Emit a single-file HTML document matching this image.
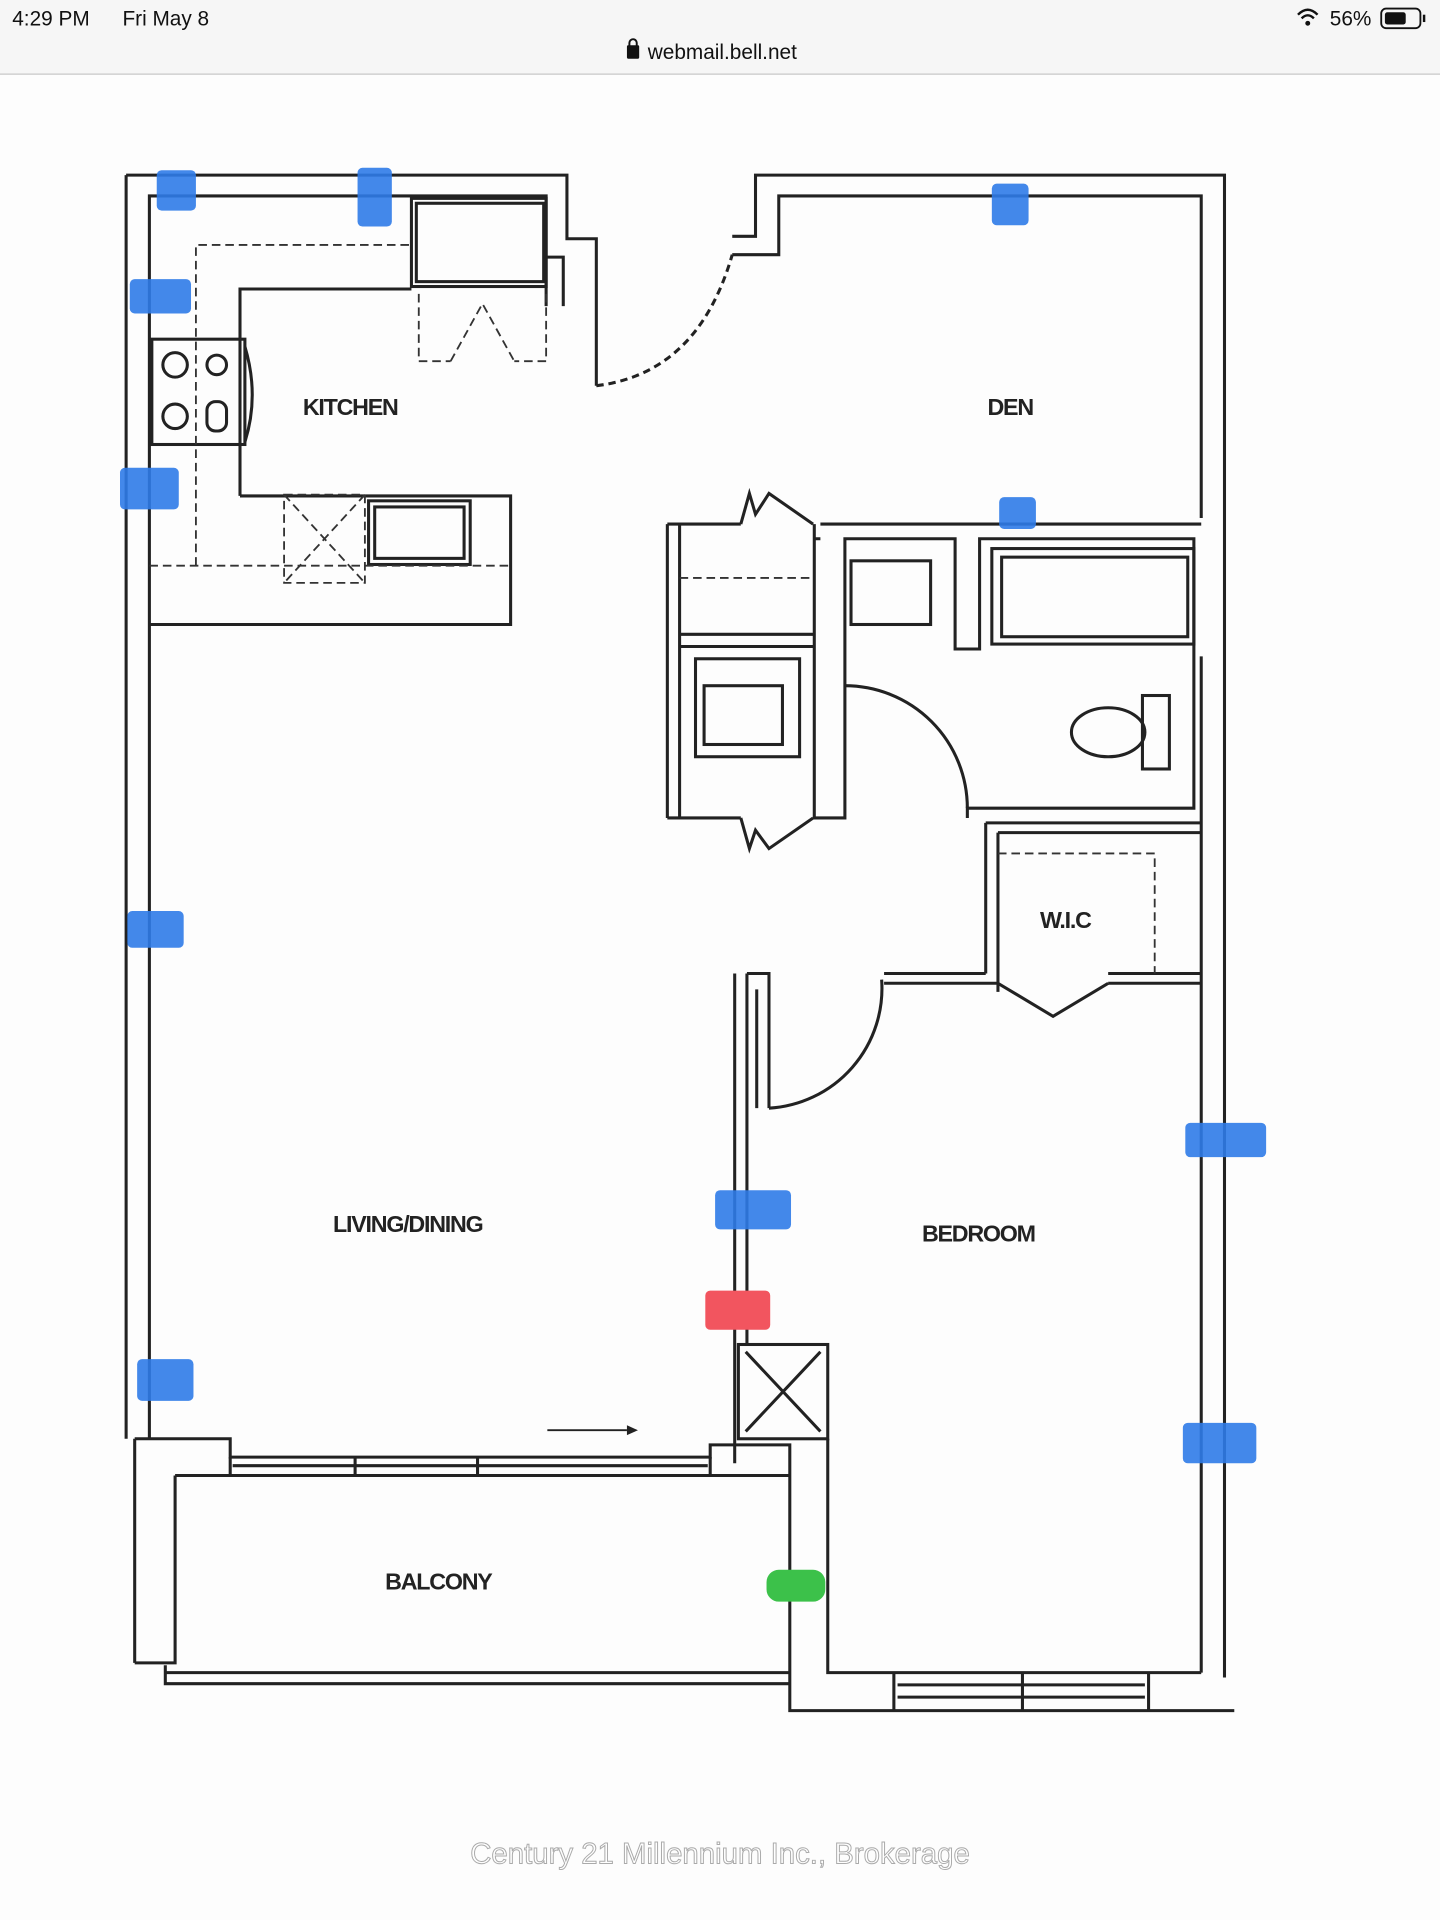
<!DOCTYPE html>
<html><head><meta charset="utf-8"><style>
html,body{margin:0;padding:0;background:#fff;}
svg{display:block;}
</style></head><body>
<svg width="1440" height="1920" viewBox="0 0 1176 1568" xmlns="http://www.w3.org/2000/svg">
<rect x="0" y="0" width="1176" height="1568" fill="#fdfdfd"/>
<rect x="0" y="0" width="1176" height="60" fill="#f6f6f6"/>
<line x1="0" y1="60.5" x2="1176" y2="60.5" stroke="#c8c8c8" stroke-width="1"/>
<text x="10" y="21" font-family="Liberation Sans, sans-serif" font-size="17" fill="#111">4:29 PM</text>
<text x="100" y="21" font-family="Liberation Sans, sans-serif" font-size="17" fill="#111">Fri May 8</text>
<rect x="512" y="37" width="10" height="11" rx="1" fill="#111"/>
<path d="M514 38 v-3 a3 3 0 0 1 6 0 v3" fill="none" stroke="#111" stroke-width="1.6"/>
<text x="529" y="48" font-family="Liberation Sans, sans-serif" font-size="17" fill="#111">webmail.bell.net</text>
<text x="1086" y="21" font-family="Liberation Sans, sans-serif" font-size="17" fill="#111">56%</text>
<path d="M1060 12 q8 -8 16 0 M1063 15 q5 -5 10 0" fill="none" stroke="#111" stroke-width="2"/>
<circle cx="1068" cy="19" r="2" fill="#111"/>
<rect x="1128" y="7" width="32" height="16" rx="4" fill="none" stroke="#111" stroke-width="1.5"/>
<rect x="1131" y="10" width="17" height="10" rx="2" fill="#111"/>
<rect x="1162" y="12" width="2" height="6" fill="#111"/>

<g fill="none" stroke="#222" stroke-width="2.5">
<path d="M103 143 H463 V195 H487 V315"/>
<path d="M122 1175 V160 H446 V250"/>
<path d="M103 143 V1175"/>
<path d="M446 210 H460 V250"/>
<path d="M598 193 H617 V143 H1000 V1370"/>
<path d="M598 208 H636 V160 H981 V423"/>
<path d="M981 536 V1366"/>
<rect x="336" y="162" width="110" height="72"/>
<rect x="340" y="166" width="104" height="64"/>
<path d="M196 405 V236 H336"/>
<path d="M196 405 H417 V510 H122"/>
<rect x="124" y="277" width="76" height="86"/>
<circle cx="143" cy="298" r="10"/><circle cx="177" cy="298" r="8"/>
<circle cx="143" cy="340" r="10"/><rect x="169" y="328" width="16" height="24" rx="7"/>
<path d="M200 283 q12 40 0 78"/>
<rect x="301" y="409" width="83" height="52"/>
<rect x="306" y="414" width="73" height="42"/>
<path d="M545 428 V668 M555 428 V668 M545 428 H605 M545 668 H605"/>
<path d="M605 428 L612 403 L617 420 L628 403 L664 428 M605 668 L612 693 L617 678 L628 693 L664 668"/>
<path d="M555 518 H665 M555 528 H665"/>
<rect x="568" y="538" width="85" height="80"/>
<rect x="575" y="560" width="64" height="48"/>
<path d="M665 428 V668 H690 V440 H780 V530 H800 V440 H975 V660 H790 V668"/>
<path d="M670 428 H981 M665 440 H670"/>
<rect x="695" y="458" width="65" height="52"/>
<rect x="810" y="448" width="165" height="78"/>
<rect x="818" y="455" width="152" height="65"/>
<ellipse cx="905" cy="598" rx="30" ry="20"/>
<rect x="933" y="568" width="22" height="60"/>
<path d="M690 560 A100 100 0 0 1 790 660"/>
<path d="M805 672 H981 M815 680 H981 M805 672 V795 M815 680 V810"/>
<path d="M722 795 H805 M722 803 H815 M905 795 H981 M905 803 H981"/>
<path d="M815 803 L860 830 L905 803"/>
<path d="M720 800 A98 98 0 0 1 628 905"/>
<path d="M600 795 V1195 M610 795 V1098 M610 795 H628 V905"/>
<path d="M618 808 V905"/>
<rect x="603" y="1098" width="73" height="77"/>
<path d="M609 1104 L670 1169 M670 1104 L609 1169"/>
<path d="M110 1175 H188 V1190 H580 V1180 H645 V1397 H1008"/>
<path d="M110 1175 V1358 M143 1205 H645"/>
<path d="M143 1205 V1358 H110 M135 1360 V1375 H645 M135 1366 H645"/>
<path d="M188 1190 V1205 M580 1190 V1205"/>
<path d="M190 1197 H578 M290 1190 V1205 M390 1190 V1205"/>
<path d="M676 1175 V1366 H981"/>
<path d="M730 1366 V1397 M938 1366 V1397 M733 1376 H935 M733 1386 H935 M835 1366 V1397"/>
<path d="M487 315 Q570 305 598 208" stroke-dasharray="6 4"/>
<path d="M447 1168 H512" stroke-width="1.5"/>
</g>
<path d="M512 1164 L521 1168 L512 1172 Z" fill="#222"/>
<g fill="none" stroke="#333" stroke-width="1.5" stroke-dasharray="7 4">
<path d="M160 462 V200 H336"/>
<path d="M122 462 H417"/>
<rect x="232" y="404" width="66" height="72"/>
<path d="M232 404 L298 476 M298 404 L232 476"/>
<path d="M342 240 V295 H368 M446 240 V295 H420 M368 295 L394 248 L420 295"/>
<path d="M555 472 H665"/>
<path d="M815 697 H943 V795"/>
</g>
<g font-family="Liberation Sans, sans-serif" font-size="19" font-weight="bold" fill="#222" text-anchor="middle" letter-spacing="-1">
<text x="286" y="339">KITCHEN</text>
<text x="825" y="339">DEN</text>
<text x="870" y="758">W.I.C</text>
<text x="333" y="1006">LIVING/DINING</text>
<text x="799" y="1014">BEDROOM</text>
<text x="358" y="1298">BALCONY</text>
</g>
<g fill="#2f7be8" opacity="0.9">
<rect x="128" y="139" width="32" height="33" rx="4"/>
<rect x="292" y="137" width="28" height="48" rx="4"/>
<rect x="810" y="150" width="30" height="34" rx="4"/>
<rect x="106" y="228" width="50" height="28" rx="4"/>
<rect x="98" y="382" width="48" height="34" rx="4"/>
<rect x="816" y="406" width="30" height="26" rx="4"/>
<rect x="104" y="744" width="46" height="30" rx="4"/>
<rect x="968" y="917" width="66" height="28" rx="4"/>
<rect x="584" y="972" width="62" height="32" rx="4"/>
<rect x="112" y="1110" width="46" height="34" rx="4"/>
<rect x="966" y="1162" width="60" height="33" rx="4"/>
</g>
<rect x="576" y="1054" width="53" height="32" rx="4" fill="#f2555f"/>
<rect x="626" y="1282" width="48" height="26" rx="10" fill="#3cc14a"/>
<text x="588" y="1522" font-family="Liberation Sans, sans-serif" font-size="24" fill="#fff" stroke="#aaa" stroke-width="0.8" text-anchor="middle">Century 21 Millennium Inc., Brokerage</text>
</svg>
</body></html>
